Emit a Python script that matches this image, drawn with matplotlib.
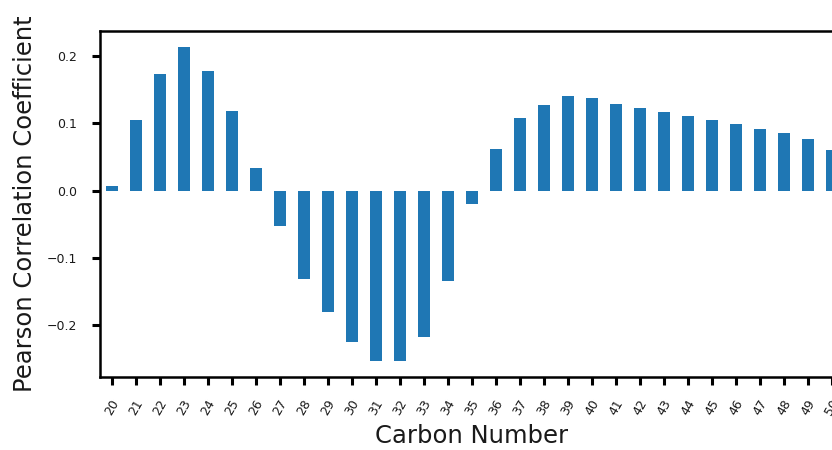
import matplotlib
matplotlib.use("Agg")
import matplotlib.pyplot as plt
import numpy as np

carbon_numbers = list(range(20, 51))
pearson_r = [0.007, 0.105, 0.174, 0.214, 0.178, 0.119, 0.034, -0.052, -0.132, -0.181,
             -0.226, -0.253, -0.254, -0.218, -0.134, -0.020, 0.062, 0.108, 0.128, 0.140,
             0.138, 0.129, 0.123, 0.117, 0.111, 0.105, 0.0996, 0.092, 0.085, 0.076, 0.061]

W, H, DPI = 832, 450, 100
TEXT = "#1a1a1a"
fig = plt.figure(figsize=(W / DPI, H / DPI), dpi=DPI)
# axes extends past the right edge of the canvas
ax = fig.add_axes([100 / W, (H - 377) / H, 744 / W, 346 / H])

x = np.arange(len(carbon_numbers))
ax.bar(x, pearson_r, width=0.5, color="#1f77b4")
ax.set_xlim(-0.5, len(carbon_numbers) - 0.5)
rng = max(pearson_r) - min(pearson_r)
ax.set_ylim(min(pearson_r) - 0.05 * rng, max(pearson_r) + 0.05 * rng)

ax.set_xticks(x)
ax.set_xticklabels([str(c) for c in carbon_numbers], rotation=60, fontsize=9, color=TEXT)
ax.set_yticks([-0.2, -0.1, 0.0, 0.1, 0.2])
ax.set_yticklabels(["\u22120.2", "\u22120.1", "0.0", "0.1", "0.2"], fontsize=9, color=TEXT)
ax.tick_params(axis="both", length=5.5, width=2.2)
ax.tick_params(axis="x", pad=9)
ax.tick_params(axis="y", pad=11)

for s in ax.spines.values():
    s.set_linewidth(1.8)

ax.set_xlabel("Carbon Number", fontsize=17.5, color=TEXT, labelpad=5)
ax.set_ylabel("Pearson Correlation Coefficient", fontsize=17.5, color=TEXT, labelpad=7)

fig.savefig("out.png", dpi=DPI)
